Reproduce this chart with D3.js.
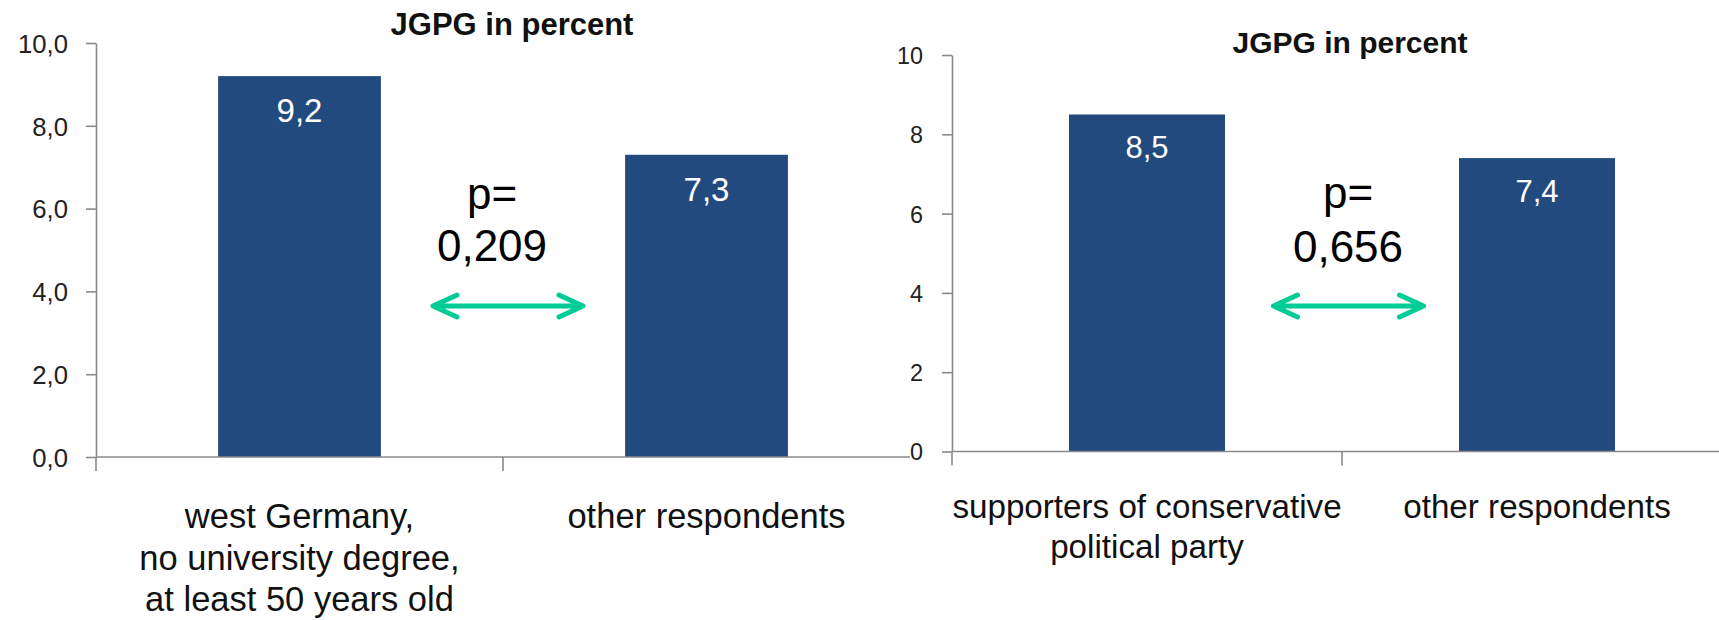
<!DOCTYPE html>
<html>
<head>
<meta charset="utf-8">
<script src="https://cdn.jsdelivr.net/npm/d3@7"></script>
<style>
  html, body { margin: 0; padding: 0; background: #fff; }
  svg { display: block; font-family: "Liberation Sans", Arial, sans-serif; }
</style>
</head>
<body>
<svg id="chart" width="1719" height="620"></svg>
<script>
// Left panel: west German respondents without degree, 50+ vs. everyone else
const groupsA = [["west Germany,", "no university degree,", "at least 50 years old"], ["other respondents"]];
const valuesA = [9.2, 7.3];
const ticksA = [0, 2, 4, 6, 8, 10];
const pValueA = "0,209";

// Right panel: conservative-party supporters vs. everyone else
const groupsB = [["supporters of conservative", "political party"], ["other respondents"]];
const valuesB = [8.5, 7.4];
const ticksB = [0, 2, 4, 6, 8, 10];
const pValueB = "0,656";

const chartTitle = "JGPG in percent";

const BAR = "#234a7e";
const AXIS = "#8a8a8a";
const ARROW = "#00cc96";
const comma = s => s.replace(".", ",");

const svg = d3.select("#chart");

const panels = [
  {
    groups: groupsA, values: valuesA, ticks: ticksA, p: pValueA,
    xr: [96, 910], yr: [457, 43],
    tickFmt: d => comma(d3.format(".1f")(d)), tickSize: 25.7, tickPad: 18,
    title: { x: 512, y: 35, size: 31 },
    valSize: 33, valOff: 46,
    cat: { size: 34.5, y: 528, lh: 41.5 },
    pText: { x: 492, y: [209, 261], size: 44 },
    arrow: { cx: 508, y: 306, half: 75 }
  },
  {
    groups: groupsB, values: valuesB, ticks: ticksB, p: pValueB,
    xr: [952, 1732], yr: [451.5, 55],
    tickFmt: d => d3.format("d")(d), tickSize: 23.4, tickPad: 19,
    title: { x: 1350, y: 53, size: 30 },
    valSize: 31, valOff: 44,
    cat: { size: 33.2, y: 518, lh: 39.5 },
    pText: { x: 1348, y: [208, 262], size: 44 },
    arrow: { cx: 1348.5, y: 306, half: 75 }
  }
];

panels.forEach(P => {
  const names = P.groups.map(g => g.join(" "));
  const x = d3.scaleBand().domain(names).range(P.xr).paddingInner(0.6).paddingOuter(0.3);
  const y = d3.scaleLinear().domain([0, 10]).range(P.yr);
  const step = x.step();
  const g = svg.append("g");

  // bars
  g.selectAll("rect.bar").data(P.values).join("rect")
    .attr("class", "bar")
    .attr("x", (d, i) => x(names[i]))
    .attr("width", x.bandwidth())
    .attr("y", d => y(d))
    .attr("height", d => y(0) - y(d))
    .attr("fill", BAR);

  // value labels inside bars
  g.selectAll("text.val").data(P.values).join("text")
    .attr("class", "val")
    .attr("x", (d, i) => x(names[i]) + x.bandwidth() / 2)
    .attr("y", d => y(d) + P.valOff)
    .attr("text-anchor", "middle")
    .attr("fill", "#fff")
    .attr("font-size", P.valSize)
    .text(d => comma(d3.format(".1f")(d)));

  // value axis
  const ya = g.append("g")
    .attr("transform", `translate(${P.xr[0]},0)`)
    .call(d3.axisLeft(y).tickValues(P.ticks).tickFormat(P.tickFmt)
      .tickSize(10).tickSizeOuter(0).tickPadding(P.tickPad));
  ya.select(".domain").attr("stroke", AXIS).attr("stroke-width", 1.6);
  ya.selectAll(".tick line").attr("stroke", AXIS).attr("stroke-width", 1.6);
  ya.selectAll(".tick text")
    .attr("font-size", P.tickSize)
    .attr("font-family", "\"Liberation Sans\", Arial, sans-serif")
    .attr("fill", "#222")
    .attr("dy", "0.36em");

  // category axis line and boundary ticks
  g.append("line")
    .attr("x1", P.xr[0]).attr("x2", P.xr[1])
    .attr("y1", y(0)).attr("y2", y(0))
    .attr("stroke", AXIS).attr("stroke-width", 1.6);
  g.selectAll("line.div").data(d3.range(names.length)).join("line")
    .attr("class", "div")
    .attr("x1", i => P.xr[0] + i * step).attr("x2", i => P.xr[0] + i * step)
    .attr("y1", y(0)).attr("y2", y(0) + 14)
    .attr("stroke", AXIS).attr("stroke-width", 1.6);

  // category labels
  const cl = g.selectAll("text.cat").data(P.groups).join("text")
    .attr("class", "cat")
    .attr("text-anchor", "middle")
    .attr("font-size", P.cat.size)
    .attr("fill", "#111");
  cl.each(function (lines, i) {
    const cx = x(names[i]) + x.bandwidth() / 2;
    d3.select(this).selectAll("tspan").data(lines).join("tspan")
      .attr("x", cx)
      .attr("y", (l, j) => P.cat.y + j * P.cat.lh)
      .text(l => l);
  });

  // title
  g.append("text")
    .attr("x", P.title.x).attr("y", P.title.y)
    .attr("text-anchor", "middle")
    .attr("font-size", P.title.size)
    .attr("font-weight", "bold")
    .attr("fill", "#111")
    .text(chartTitle);

  // p-value annotation
  const pt = g.append("text")
    .attr("text-anchor", "middle")
    .attr("font-size", P.pText.size)
    .attr("fill", "#000");
  pt.append("tspan").attr("x", P.pText.x).attr("y", P.pText.y[0]).text("p=");
  pt.append("tspan").attr("x", P.pText.x).attr("y", P.pText.y[1]).text(P.p);

  // double-headed comparison arrow
  const a = P.arrow, x1 = a.cx - a.half, x2 = a.cx + a.half, hl = 24, hh = 11;
  g.append("path")
    .attr("d", `M${x1 + hl},${a.y - hh} L${x1},${a.y} L${x1 + hl},${a.y + hh}` +
               ` M${x1},${a.y} H${x2}` +
               ` M${x2 - hl},${a.y - hh} L${x2},${a.y} L${x2 - hl},${a.y + hh}`)
    .attr("fill", "none")
    .attr("stroke", ARROW)
    .attr("stroke-width", 5)
    .attr("stroke-linecap", "round")
    .attr("stroke-linejoin", "round");
});
</script>
</body>
</html>
